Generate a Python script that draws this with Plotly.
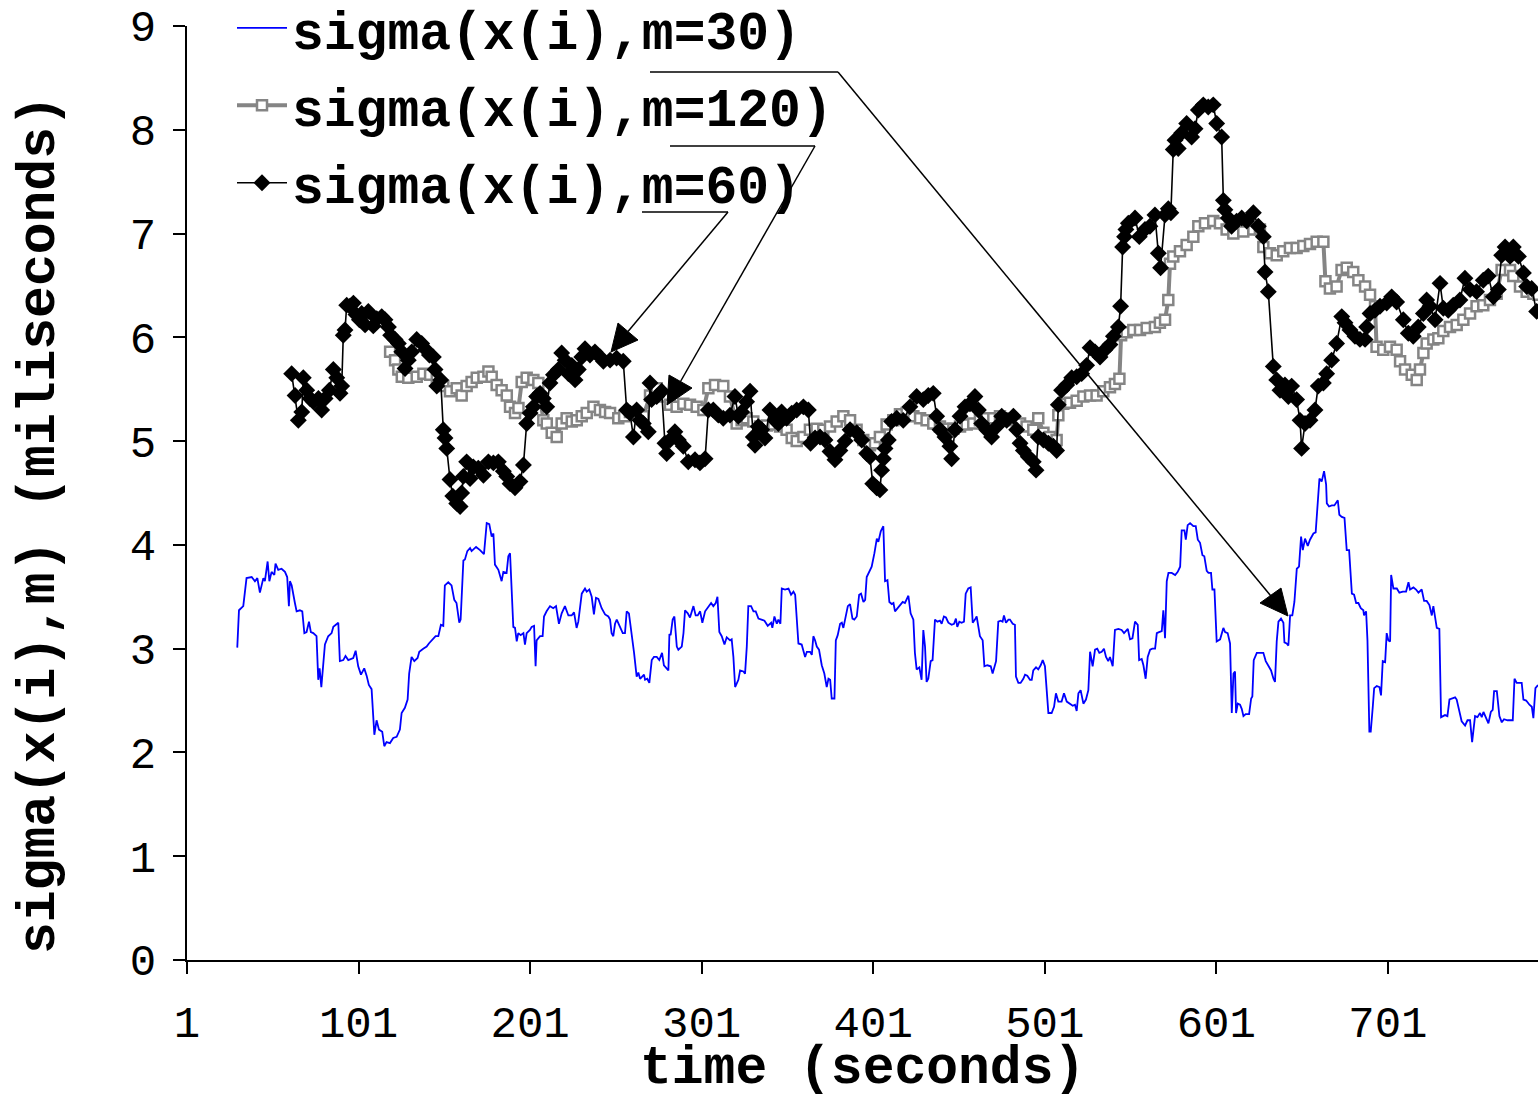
import plotly.graph_objects as go

# ---------------- data ----------------
t_m30 = [30.3,31.3,33.8,35.7,38.7,40.6,42.0,43.5,45.5,46.4,48.0,49.0,50.3,51.9,52.6,54.2,56.1,58.1,59.4,60.4,61.0,62.0,63.9,64.9,66.8,68.2,69.4,70.7,72.1,73.2,74.6,76.5,77.5,78.3,79.3,81.4,83.3,85.3,86.3,89.2,90.1,92.1,93.4,95.0,97.9,99.3,100.8,102.4,104.3,105.7,107.0,108.6,110.2,111.5,112.9,114.8,116.0,117.3,119.3,121.2,123.2,125.1,126.1,128.0,129.6,130.5,131.9,133.5,135.4,136.4,138.7,140.7,142.0,143.6,145.9,147.5,149.0,150.4,151.3,153.3,155.2,156.8,158.1,
159.7,160.5,162.1,163.0,164.4,166.0,166.9,169.5,171.8,174.1,175.7,177.2,178.6,179.6,180.5,182.5,184.4,185.4,187.3,188.3,189.3,190.2,191.2,192.2,193.2,194.1,195.5,197.1,198.0,199.0,200.9,201.9,203.3,204.2,204.8,206.8,208.3,209.1,210.6,212.6,214.5,216.1,217.8,219.4,221.3,223.3,225.2,226.6,228.1,229.1,231.1,233.0,234.0,235.5,236.9,238.2,239.4,240.8,242.7,244.7,246.6,247.6,248.5,249.5,250.5,251.5,253.4,255.0,256.3,257.3,258.6,260.2,261.6,263.1,264.1,265.1,266.0,267.4,268.0,269.3,270.5,271.9,273.2,274.8,276.3,277.9,279.0,281.6,282.2,282.9,284.1,285.1,
286.5,287.4,289.4,290.4,291.3,292.9,294.2,296.2,297.5,298.7,300.1,301.4,303.0,304.9,306.5,307.8,309.2,310.2,311.3,312.7,314.3,315.6,317.6,318.5,319.5,320.5,322.4,323.4,325.3,326.3,327.3,328.2,329.8,331.2,332.5,334.1,335.6,337.6,339.5,341.5,342.2,343.4,344.8,345.7,346.9,347.7,349.6,351.6,353.1,354.5,355.5,356.4,357.4,359.3,360.3,361.3,362.3,364.2,365.2,366.1,367.1,368.1,369.4,371.0,372.5,373.9,374.9,375.9,376.8,378.4,379.2,380.3,381.7,382.7,383.6,385.0,386.2,387.5,388.9,390.0,391.4,392.8,393.9,395.3,396.3,397.2,398.6,400.1,401.7,403.1,404.0,405.4,406.9,407.9,409.3,410.4,411.8,412.8,413.7,415.3,
416.6,418.2,419.5,421.5,422.8,424.4,425.3,426.3,427.9,429.2,430.2,431.2,432.1,433.1,434.5,435.6,437.0,438.4,439.9,440.9,442.2,443.4,444.8,446.7,448.1,449.2,450.0,451.2,452.5,453.9,454.9,456.4,457.8,459.0,460.3,461.3,462.3,463.2,464.8,465.8,467.5,469.5,470.6,472.6,473.9,475.3,476.4,477.2,478.4,479.8,480.7,482.3,483.6,484.2,485.6,486.9,488.5,489.5,490.8,492.4,493.4,494.3,495.9,497.2,498.6,499.8,501.1,502.1,503.1,505.0,506.4,507.5,508.9,510.8,512.2,513.8,515.7,517.3,518.6,519.6,520.6,521.9,523.5,525.0,526.4,527.4,528.9,530.3,531.6,532.8,534.2,535.5,536.7,538.0,539.0,540.6,541.9,543.9,545.8,547.2,
549.4,550.7,552.1,553.6,555.2,556.0,557.5,558.5,559.8,561.0,562.4,563.7,565.3,566.3,567.6,569.2,570.1,571.1,572.1,573.1,575.0,577.0,578.5,579.9,580.8,582.4,583.2,584.3,585.7,587.6,589.0,590.2,591.5,592.9,594.0,595.4,596.4,597.9,598.7,599.9,601.2,603.2,605.1,606.1,607.6,609.0,610.0,611.0,611.9,612.5,613.5,614.8,615.8,616.8,618.1,620.1,621.3,622.0,622.8,624.6,626.5,628.4,629.8,631.4,632.9,634.3,635.2,636.2,637.2,638.7,640.1,640.7,642.0,643.0,644.0,645.3,646.5,647.9,649.2,650.4,651.4,652.7,654.3,655.6,657.6,658.9,660.1,661.1,662.4,663.8,665.0,665.4,666.7,668.3,669.8,671.8,672.7,674.1,675.7,677.0,678.4,
680.0,681.3,682.5,683.8,685.2,686.7,687.1,688.3,689.1,690.2,691.0,692.2,693.0,694.5,696.1,697.0,698.0,699.4,700.3,701.3,702.3,702.9,704.2,706.2,707.7,709.7,711.6,713.0,713.9,715.9,717.4,718.8,720.7,722.1,723.6,725.2,726.6,727.5,728.5,729.5,731.0,732.0,734.3,735.7,736.9,738.2,740.2,741.1,742.7,744.0,746.0,747.4,748.9,750.1,751.8,753.2,754.7,755.7,756.7,758.2,759.6,761.0,762.1,762.9,764.5,766.0,767.4,768.7,770.7,773.8,774.8,776.1,779.0,780.0,781.6,783.5,784.9,785.8,787.0,788.5]
s_m30 = [3.01,3.37,3.41,3.68,3.69,3.65,3.68,3.54,3.68,3.65,3.84,3.65,3.74,3.71,3.82,3.76,3.77,3.74,3.69,3.41,3.65,3.61,3.44,3.36,3.37,3.36,3.15,3.16,3.26,3.16,3.15,3.12,2.70,2.81,2.63,3.04,3.12,3.15,3.21,3.25,2.88,2.89,2.93,2.89,2.91,2.98,2.83,2.75,2.81,2.74,2.65,2.61,2.17,2.31,2.22,2.20,2.06,2.10,2.09,2.14,2.15,2.22,2.38,2.43,2.51,2.76,2.92,2.88,2.91,2.97,3.00,3.02,3.05,3.08,3.12,3.12,3.23,3.22,3.61,3.64,3.61,3.47,3.44,
3.25,3.28,3.85,3.86,3.94,3.97,3.94,3.98,3.95,3.91,4.21,4.20,4.08,4.11,3.81,3.76,3.65,3.74,3.73,3.89,3.92,3.53,3.21,3.20,3.07,3.15,3.13,3.15,3.04,3.15,3.18,3.21,3.22,2.83,3.08,3.12,3.12,3.31,3.36,3.41,3.39,3.41,3.24,3.34,3.41,3.32,3.32,3.35,3.20,3.26,3.53,3.58,3.55,3.57,3.50,3.33,3.49,3.48,3.39,3.33,3.31,3.28,3.15,3.12,3.24,3.28,3.20,3.15,3.15,3.36,3.34,3.15,2.96,2.73,2.77,2.71,2.73,2.75,2.70,2.71,2.67,2.89,2.92,2.92,2.89,2.96,2.84,2.79,3.14,3.13,3.28,3.31,
3.02,2.99,3.02,3.15,3.37,3.34,3.30,3.41,3.32,3.32,3.36,3.25,3.36,3.41,3.44,3.41,3.44,3.50,3.16,3.12,3.04,3.11,3.08,3.09,2.92,2.63,2.70,2.79,2.78,2.76,3.02,3.41,3.41,3.36,3.36,3.29,3.28,3.27,3.22,3.25,3.20,3.31,3.24,3.28,3.24,3.58,3.57,3.58,3.52,3.55,3.52,3.28,3.05,3.04,2.97,2.92,2.97,2.97,2.94,3.12,3.08,3.02,2.99,2.84,2.76,2.63,2.71,2.70,2.52,2.52,3.08,3.13,3.24,3.25,3.20,3.31,3.41,3.43,3.29,3.28,3.31,3.52,3.53,3.45,3.47,3.69,3.74,3.79,3.92,4.06,4.03,4.13,4.18,3.65,3.66,3.45,3.43,3.44,3.36,3.39,
3.42,3.45,3.44,3.51,3.34,3.28,2.96,2.80,2.82,2.70,3.18,3.02,2.68,2.71,2.88,2.89,3.28,3.26,3.27,3.24,3.31,3.30,3.25,3.23,3.24,3.29,3.21,3.26,3.25,3.26,3.53,3.58,3.59,3.25,3.28,3.31,3.21,3.12,3.08,2.83,2.84,2.83,2.76,2.88,3.26,3.27,3.26,3.32,3.25,3.28,3.28,3.24,3.23,2.73,2.67,2.67,2.71,2.75,2.74,2.70,2.70,2.79,2.82,2.80,2.84,2.89,2.83,2.63,2.38,2.38,2.44,2.57,2.49,2.49,2.57,2.49,2.47,2.45,2.46,2.40,2.57,2.60,2.47,2.51,2.60,2.97,2.83,2.99,3.00,2.96,2.97,3.00,2.92,2.88,2.92,2.83,3.18,3.19,3.18,3.15,
3.19,3.09,3.10,3.26,3.23,2.89,2.90,2.84,2.71,2.92,2.99,3.00,3.00,3.15,3.16,3.17,3.37,3.10,3.65,3.73,3.73,3.71,3.74,3.79,4.14,4.14,4.05,4.19,4.21,4.18,4.18,4.05,4.02,3.90,3.89,3.75,3.73,3.73,3.57,3.57,3.07,3.09,3.20,3.16,3.15,3.05,2.38,2.76,2.78,2.38,2.47,2.46,2.42,2.35,2.37,2.37,2.52,2.54,2.89,2.96,2.96,2.96,2.88,2.83,2.79,2.71,2.68,3.07,3.26,3.29,3.25,3.06,3.05,3.03,3.32,3.32,3.45,3.77,3.79,4.08,3.95,4.06,3.99,4.05,4.11,4.12,4.45,4.64,4.61,4.71,4.58,4.40,4.37,4.38,4.38,4.43,4.29,4.27,4.26,3.95,3.95,
3.53,3.52,3.44,3.44,3.39,3.37,3.32,3.36,3.08,2.20,2.20,2.44,2.62,2.64,2.63,2.55,2.88,2.87,3.15,3.08,3.07,3.71,3.58,3.58,3.54,3.55,3.55,3.64,3.57,3.59,3.57,3.54,3.57,3.46,3.46,3.42,3.32,3.41,3.32,3.20,3.19,2.34,2.36,2.35,2.51,2.52,2.53,2.51,2.38,2.30,2.26,2.31,2.31,2.10,2.35,2.34,2.38,2.34,2.39,2.33,2.28,2.39,2.41,2.59,2.59,2.35,2.29,2.32,2.31,2.31,2.71,2.67,2.67,2.51,2.50,2.46,2.44,2.33,2.62,2.65]

t_m120 = [119.4,122.3,124.2,126.2,130.0,134.9,138.8,142.7,146.6,150.4,154.3,158.2,161.1,164.0,166.9,169.9,173.8,176.7,178.6,181.5,184.4,187.4,189.3,192.2,194.2,196.1,199.0,202.9,205.8,208.7,210.7,213.6,216.5,219.4,222.3,225.3,228.2,231.1,234.0,237.9,241.7,244.7,247.6,252.4,255.8,259.2,263.1,267.0,270.9,274.8,278.6,282.5,286.4,290.3,294.2,298.1,302.0,304.9,308.8,313.6,317.5,321.4,324.3,327.2,331.1,335.0,338.9,342.8,346.7,350.5,353.5,356.4,360.3,364.1,368.0,371.9,375.8,379.7,383.6,387.5,391.3,395.2,399.1,402.0,404.9,408.8,412.7,416.6,420.5,424.4,428.3,432.1,436.0,439.9,443.8,447.7,451.6,455.5,459.3,463.2,467.1,471.0,474.9,478.8,482.7,486.6,490.4,494.3,497.2,500.2,504.0,507.9,508.9,511.8,515.7,519.6,523.5,527.4,531.2,535.1,539.0,541.9,544.5,545.5,548.7,552.6,556.5,560.4,565.2,568.1,571.1,573.0,574.0,575.9,579.8,583.7,587.6,590.5,594.4,599.2,603.1,607.0,610.9,616.7,622.6,626.4,628.4,632.3,636.2,640.0,643.9,647.8,651.7,655.6,659.5,663.4,664.6,667.2,671.1,674.0,677.0,680.8,683.8,687.7,690.6,693.5,694.4,698.3,702.2,706.1,708.1,711.0,714.9,717.8,719.7,721.7,723.6,727.5,730.4,733.3,737.2,741.1,745.0,748.9,752.7,756.6,760.5,764.4,767.3,772.2,774.1,778.0,781.9,785.8,788.7]
s_m120 = [5.86,5.78,5.69,5.62,5.61,5.62,5.65,5.64,5.59,5.53,5.48,5.51,5.44,5.53,5.57,5.61,5.62,5.67,5.62,5.54,5.49,5.44,5.33,5.27,5.32,5.57,5.61,5.59,5.56,5.20,5.17,5.08,5.04,5.17,5.22,5.19,5.20,5.24,5.27,5.33,5.30,5.28,5.27,5.22,5.24,5.28,5.26,5.24,5.44,5.51,5.43,5.35,5.33,5.36,5.35,5.33,5.30,5.51,5.54,5.53,5.43,5.17,5.20,5.22,5.19,5.14,5.15,5.16,5.14,5.11,5.03,5.00,5.04,5.11,5.12,5.11,5.14,5.19,5.24,5.20,5.11,5.01,4.96,4.98,5.04,5.16,5.20,5.26,5.27,5.24,5.22,5.20,5.17,5.14,5.12,5.12,5.14,5.16,5.17,5.20,5.22,5.22,5.24,5.22,5.20,5.17,5.14,5.11,5.22,5.08,5.04,5.01,5.25,5.36,5.37,5.39,5.43,5.44,5.44,5.48,5.52,5.55,5.60,6.02,6.05,6.07,6.07,6.09,6.10,6.14,6.17,6.36,6.71,6.78,6.83,6.89,6.97,7.07,7.10,7.12,7.10,7.04,7.00,7.02,7.04,7.04,6.87,6.81,6.79,6.83,6.86,6.86,6.88,6.90,6.92,6.92,6.54,6.47,6.49,6.65,6.67,6.63,6.55,6.49,6.41,6.30,5.91,5.88,5.91,5.88,5.77,5.69,5.64,5.59,5.69,5.85,5.94,5.98,5.99,6.06,6.10,6.12,6.17,6.23,6.30,6.31,6.36,6.42,6.65,6.65,6.59,6.49,6.44,6.42,6.41]

t_m60 = [62.0,64.0,65.9,67.9,68.8,70.8,72.7,74.7,77.6,79.5,81.5,84.0,86.3,88.3,90.2,91.2,92.1,93.1,94.1,96.0,98.0,99.5,101.5,102.8,104.8,106.7,109.6,111.6,114.5,116.4,118.4,119.7,122.3,124.2,126.2,128.1,130.0,132.0,134.9,137.8,140.3,142.3,144.6,145.6,146.6,148.9,150.4,151.4,152.4,154.3,155.9,158.2,160.2,161.1,162.1,164.0,166.0,167.9,170.8,173.8,176.7,179.6,182.5,185.4,187.4,189.3,192.2,195.1,197.1,199.0,201.0,202.9,204.8,206.8,208.7,210.7,212.6,214.6,217.5,219.4,221.4,223.3,225.3,227.2,229.1,231.1,233.0,235.9,238.8,241.8,243.7,247.6,251.4,255.3,257.3,259.2,261.2,263.1,265.0,267.0,269.9,270.9,271.8,274.8,277.7,279.6,280.6,282.5,285.4,287.4,290.3,293.2,297.1,300.0,303.0,304.9,307.8,310.7,313.6,317.5,320.4,322.4,324.3,327.2,329.2,331.1,332.1,334.0,336.0,337.9,340.8,343.7,345.7,347.6,350.5,353.5,356.4,360.3,363.2,364.5,367.1,370.0,372.9,375.8,378.7,381.6,384.6,387.5,391.4,394.3,397.2,399.1,400.7,403.0,404.9,405.9,406.9,407.9,409.8,411.7,414.7,418.5,422.4,426.3,430.2,433.1,436.0,438.0,439.9,442.8,445.7,446.7,448.7,451.6,454.5,457.4,460.3,462.3,464.2,467.1,470.0,473.0,475.9,478.8,482.7,484.6,486.6,488.5,491.4,494.3,495.9,497.2,500.2,503.1,506.0,507.9,508.9,510.8,513.8,516.7,519.6,522.5,525.4,527.4,530.3,533.2,536.1,539.0,541.0,543.9,545.2,546.4,547.5,548.3,549.7,553.6,556.1,559.4,562.3,565.2,567.2,568.5,571.1,573.0,574.5,575.9,576.9,578.8,580.8,583.7,586.6,588.6,590.5,593.4,596.3,599.2,601.2,604.1,605.1,606.0,608.0,609.9,612.8,615.8,618.7,622.6,625.5,628.4,629.4,631.3,634.2,636.2,638.1,641.0,643.0,644.9,647.8,649.8,650.7,652.7,655.6,658.5,660.4,663.4,665.3,668.2,671.1,674.1,676.0,678.9,681.8,684.7,687.7,688.6,690.6,693.5,696.4,700.3,703.2,706.1,710.0,712.9,715.8,718.7,721.7,723.6,725.5,728.5,731.4,733.3,736.2,739.1,743.0,745.9,748.9,752.7,756.6,759.5,762.5,765.4,767.3,769.3,772.2,774.1,777.1,780.0,781.9,784.8,787.7]
s_m60 = [5.65,5.44,5.20,5.28,5.61,5.49,5.41,5.38,5.41,5.30,5.41,5.49,5.69,5.61,5.46,5.53,6.02,6.07,6.31,6.30,6.33,6.22,6.17,6.23,6.12,6.25,6.11,6.18,6.20,6.17,6.10,6.02,5.98,5.94,5.86,5.70,5.78,5.86,5.98,5.94,5.88,5.83,5.81,5.69,5.53,5.59,5.11,5.03,4.93,4.63,4.47,4.40,4.37,4.50,4.66,4.80,4.64,4.75,4.74,4.67,4.80,4.79,4.80,4.71,4.66,4.59,4.55,4.61,4.77,5.17,5.27,5.33,5.43,5.46,5.41,5.33,5.56,5.64,5.69,5.85,5.78,5.65,5.73,5.59,5.69,5.81,5.89,5.83,5.86,5.81,5.77,5.78,5.80,5.77,5.30,5.27,5.04,5.30,5.20,5.17,5.09,5.56,5.40,5.43,5.48,4.98,4.88,5.01,5.09,5.01,4.95,4.80,4.82,4.79,4.83,5.30,5.30,5.25,5.22,5.25,5.43,5.24,5.28,5.38,5.48,5.04,4.96,5.14,5.11,5.03,5.30,5.20,5.17,5.28,5.22,5.27,5.30,5.33,5.30,4.98,5.03,5.04,5.01,4.90,4.82,4.91,5.00,5.11,5.08,5.01,4.88,4.85,4.59,4.55,4.53,4.72,4.83,4.93,5.01,5.19,5.22,5.20,5.33,5.43,5.40,5.44,5.46,5.24,5.11,5.04,4.95,4.83,5.11,5.24,5.33,5.36,5.43,5.30,5.17,5.11,5.04,5.14,5.24,5.20,5.24,5.11,4.98,4.91,4.85,4.80,4.72,5.04,5.01,4.98,4.95,4.91,5.35,5.49,5.54,5.61,5.62,5.65,5.73,5.90,5.86,5.81,5.88,5.93,6.01,6.10,6.30,6.87,6.97,7.04,7.10,7.15,6.97,7.04,7.07,7.18,6.81,6.67,7.18,7.24,7.20,7.81,7.90,7.82,7.97,8.06,7.93,8.01,8.19,8.24,8.22,8.24,8.06,7.93,7.32,7.23,7.15,7.07,7.12,7.15,7.12,7.20,7.07,6.97,6.63,6.44,5.72,5.59,5.49,5.54,5.43,5.53,5.40,5.20,4.93,5.17,5.20,5.30,5.53,5.56,5.65,5.78,5.94,6.20,6.14,6.07,6.01,5.98,5.98,6.10,6.23,6.26,6.30,6.33,6.39,6.34,6.17,6.04,6.01,6.10,6.23,6.36,6.30,6.17,6.52,6.28,6.26,6.31,6.36,6.57,6.46,6.44,6.55,6.59,6.39,6.46,6.79,6.87,6.78,6.87,6.78,6.62,6.49,6.47,6.25]

x_tick_vals = [1, 101, 201, 301, 401, 501, 601, 701]
x_tick_text = ["1", "101", "201", "301", "401", "501", "601", "701"]
y_tick_vals = [0, 1, 2, 3, 4, 5, 6, 7, 8, 9]

name_m30 = "sigma(x(i),m=30)"
name_m120 = "sigma(x(i),m=120)"
name_m60 = "sigma(x(i),m=60)"
x_title = "time (seconds)"
y_title = "sigma(x(i),m) (miliseconds)"

# ---------------- layout constants ----------------
W, H = 1538, 1102                     # figure fills the page (body margin removed below)
PL, PT, PR, PB = 187, 26, 1538, 960   # plot area in screen pixels
ML, MT, MR, MB = PL, PT, W - PR, H - PB
PW, PH = PR - PL, PB - PT
MONO = "Liberation Mono, Courier New, monospace"


def paper(px, py):
    """screen pixel -> paper coordinates"""
    return (px - PL) / PW, (PB - py) / PH


fig = go.Figure()
fig.add_trace(go.Scatter(x=t_m30, y=s_m30, mode="lines", name=name_m30, legendgroup="a",
                         line=dict(color="#0000FF", width=1.8)))
fig.add_trace(go.Scatter(x=t_m120, y=s_m120, mode="lines+markers", name=name_m120, legendgroup="b",
                         line=dict(color="#858585", width=4),
                         marker=dict(symbol="square", size=10, color="white",
                                     line=dict(color="#858585", width=2.5))))
fig.add_trace(go.Scatter(x=t_m60, y=s_m60, mode="lines+markers", name=name_m60, legendgroup="c",
                         line=dict(color="black", width=1.6),
                         marker=dict(symbol="diamond", size=13, color="black")))

shapes = []
# callout lines (pixel positions measured on the reference)
callouts = [
    # underline start, elbow, arrow tip, arrowhead base corners
    ((650, 72), (838, 72), (1288, 616), (1260, 603), (1281, 588)),
    ((670, 146), (815, 146), (667, 405), (669, 375), (692, 388)),
    ((642, 212), (728, 212), (611, 352), (618, 323), (638, 340)),
]
for a, b, tip, c1, c2 in callouts:
    x0, y0 = paper(*a)
    x1, y1 = paper(*b)
    shapes.append(dict(type="line", xref="paper", yref="paper", x0=x0, y0=y0, x1=x1, y1=y1,
                       line=dict(color="black", width=1.5)))
    bx, by = (c1[0] + c2[0]) / 2, (c1[1] + c2[1]) / 2
    x2, y2 = paper(bx, by)
    shapes.append(dict(type="line", xref="paper", yref="paper", x0=x1, y0=y1, x1=x2, y1=y2,
                       line=dict(color="black", width=1.5)))
    pts = [paper(*tip), paper(*c1), paper(*c2)]
    path = "M {} {} L {} {} L {} {} Z".format(pts[0][0], pts[0][1], pts[1][0], pts[1][1],
                                               pts[2][0], pts[2][1])
    shapes.append(dict(type="path", xref="paper", yref="paper", path=path,
                       fillcolor="black", line=dict(color="black", width=1)))

axis_common = dict(showgrid=False, zeroline=False, showline=True, linecolor="black",
                   linewidth=2, ticks="outside", ticklen=12, tickwidth=2, tickcolor="black",
                   tickfont=dict(family=MONO, size=44, color="black"), automargin=False)

title_font = dict(family=MONO, size=53, color="black", weight="bold")
ytx, yty = paper(40, 525)
xtx, xty = paper(862, 1101)
fig.update_layout(
    width=W, height=H,
    margin=dict(l=ML, r=MR, t=MT, b=MB, pad=0, autoexpand=False),
    paper_bgcolor="white", plot_bgcolor="white",
    showlegend=True,
    legend=dict(x=paper(232, 0)[0], y=paper(0, -13)[1], xanchor="left", yanchor="top",
                bgcolor="rgba(0,0,0,0)", itemwidth=50,
                font=title_font, tracegroupgap=5.5),
    xaxis=dict(range=[1, 788.5], tickvals=x_tick_vals, ticktext=x_tick_text,
               ticklabelstandoff=10, **axis_common),
    yaxis=dict(range=[0, 9], tickvals=y_tick_vals, ticklabelstandoff=8, **axis_common),
    annotations=[
        dict(text=y_title, xref="paper", yref="paper", x=ytx, y=yty,
             xanchor="center", yanchor="middle", textangle=-90, showarrow=False,
             font=title_font),
        dict(text=x_title, xref="paper", yref="paper", x=xtx, y=xty,
             xanchor="center", yanchor="bottom", showarrow=False, font=title_font),
    ],
    shapes=shapes,
)

fig.write_html(
    "out.html",
    config=dict(displayModeBar=False),
    post_script="document.body.style.margin='0px';document.body.style.overflow='hidden';",
)
